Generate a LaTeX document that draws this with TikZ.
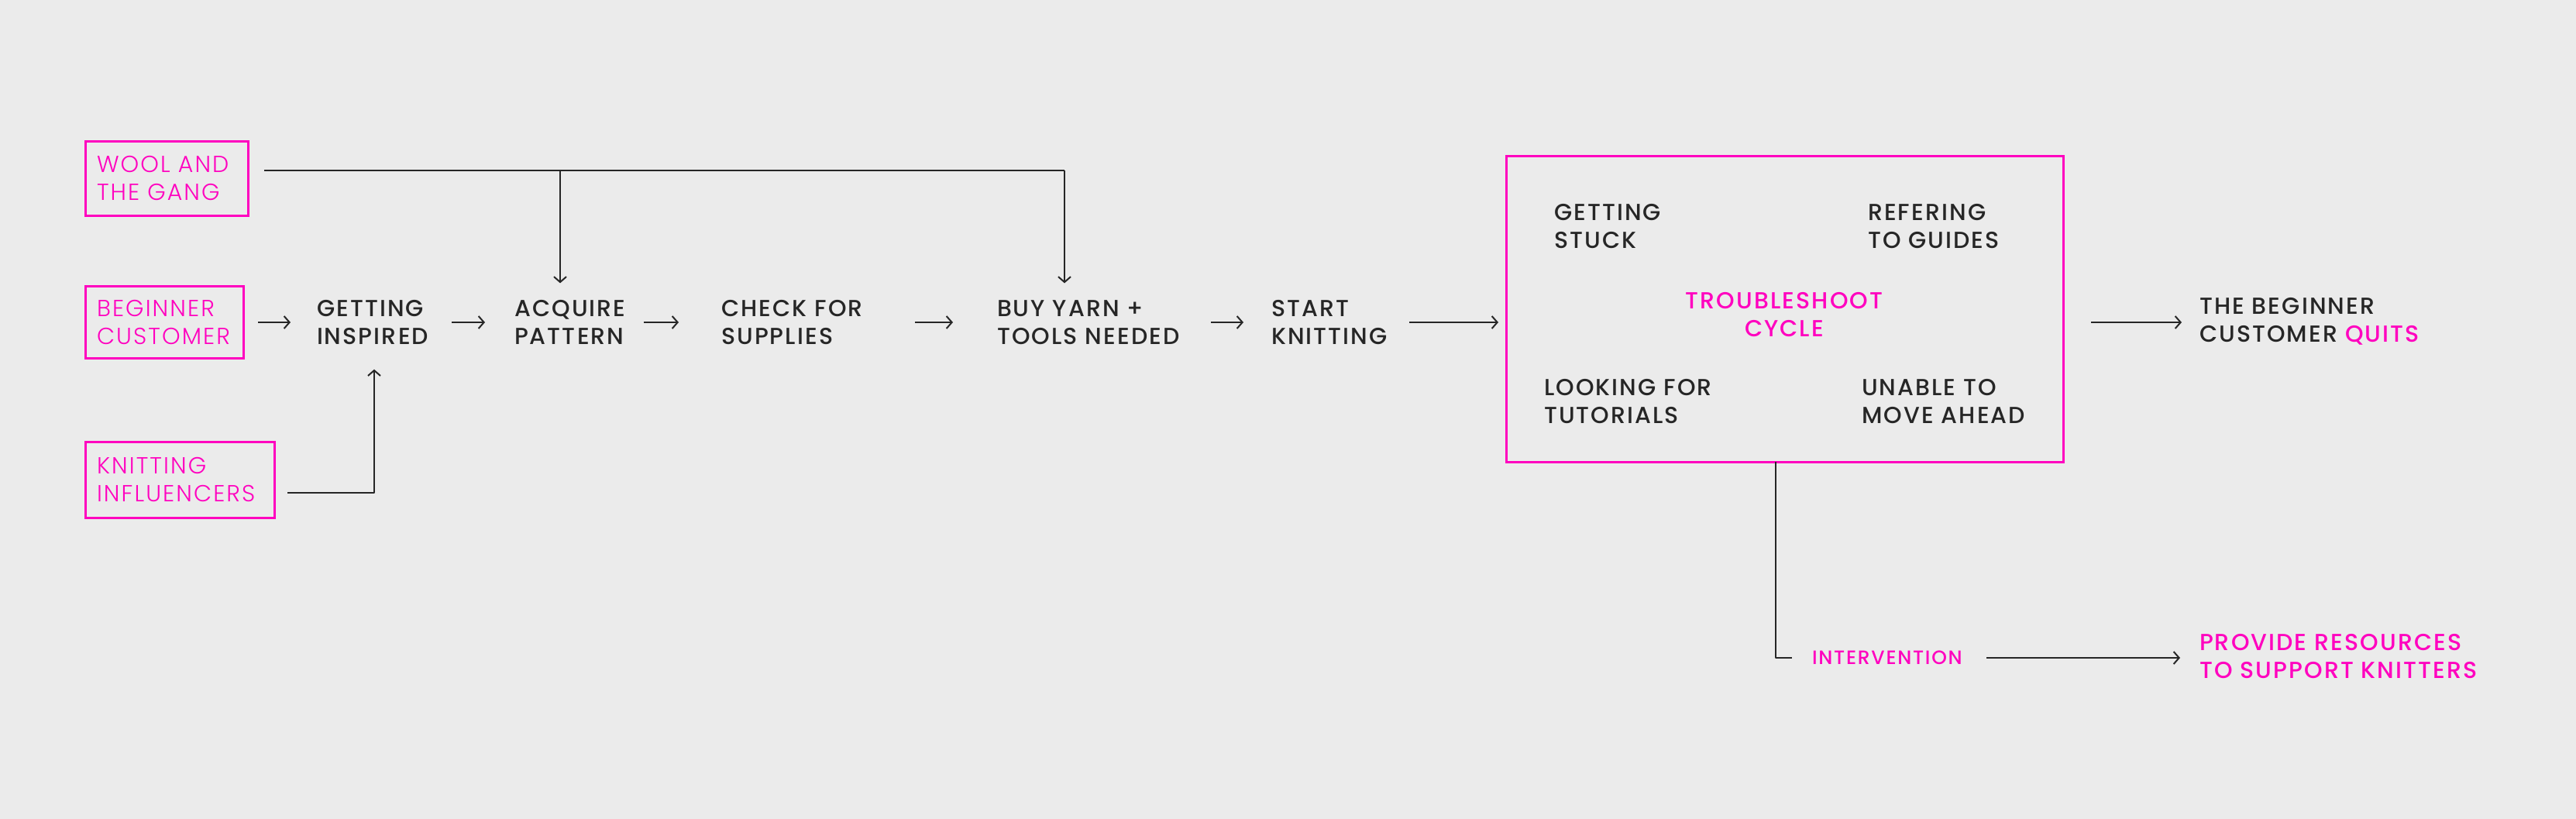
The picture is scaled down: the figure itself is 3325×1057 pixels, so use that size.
\documentclass[tikz,border=0pt]{standalone}
\usepackage{fontspec}
\setmainfont{Poppins}
\newfontfamily\pmed{Poppins Medium}[LetterSpace=7]
\newfontfamily\plight{Poppins Light}[LetterSpace=7]
\usetikzlibrary{arrows.meta}
\definecolor{mag}{HTML}{FF00BF}
\definecolor{ink}{HTML}{262626}
\definecolor{bg}{HTML}{EBEBEB}
\begin{document}
\begin{tikzpicture}[x=1pt,y=-1pt,
  every node/.style={inner sep=0pt, outer sep=0pt},
  src/.style={draw=mag, line width=3pt, text=mag, font={\plight\fontsize{30}{36}\selectfont},
    align=left, inner xsep=15pt, anchor=center},
  stage/.style={text=ink, font={\pmed\fontsize{30}{36}\selectfont}, align=left, anchor=west},
  hot/.style={text=mag, font={\pmed\fontsize{30}{36}\selectfont}, align=left, anchor=west},
  link/.style={draw=ink, line width=2pt, line join=round},
  arr/.style={link, -{Straight Barb[length=7pt,width=16pt,line width=2pt]}},
  cyclebox/.style={draw=mag, line width=3pt, minimum width=719pt, minimum height=395pt, anchor=center}
]
\fill[bg] (0,0) rectangle (3325,1057);
\useasboundingbox (0,0) rectangle (3325,1057);

% source boxes
\node[src, minimum width=210pt, minimum height=96pt, text width=180pt] (wool) at (215,230) {WOOL AND\\THE GANG};
\node[src, minimum width=204pt, minimum height=93pt, text width=174pt] (beg) at (212,416) {BEGINNER\\CUSTOMER};
\node[src, minimum width=244pt, minimum height=98pt, text width=214pt] (kn) at (232,619) {KNITTING\\INFLUENCERS};

% stages
\node[stage] (gi) at (409,416) {GETTING\\INSPIRED};
\node[stage] (aq) at (664,416) {ACQUIRE\\PATTERN};
\node[stage] (cs) at (931,416) {CHECK FOR\\SUPPLIES};
\node[stage] (by) at (1287,416) {BUY YARN +\\TOOLS NEEDED};
\node[stage] (sk) at (1641,416) {START\\KNITTING};

% troubleshoot box
\node[cyclebox] (tb) at (2303.5,398.5) {};
\node[stage] (stuck) at (2006,292) {GETTING\\STUCK};
\node[stage] (guides) at (2411,292) {REFERING\\TO GUIDES};
\node[stage] (tut) at (1993,518) {LOOKING FOR\\TUTORIALS};
\node[stage] (move) at (2403,518) {UNABLE TO\\MOVE AHEAD};
\node[hot, align=center, anchor=center] (cyc) at (2303,406) {TROUBLESHOOT\\CYCLE};

% outcomes
\node[stage] (qt) at (2839,415) {THE BEGINNER\\CUSTOMER {\color{mag}QUITS}};
\node[hot, font={\pmed\fontsize{25}{30}\selectfont}] (iv) at (2339,849) {INTERVENTION};
\node[hot] (pv) at (2839,847) {PROVIDE RESOURCES\\TO SUPPORT KNITTERS};

% wool connectors
\coordinate (wl) at (723,220);
\coordinate (wr) at (1374,220);
\draw[link] ([xshift=21pt,yshift=10pt]wool.east) -- (wr);
\draw[arr, shorten >=22pt] (wr) -- (wr |- by.north);
\draw[arr, shorten >=22pt] (wl) -- (wl |- aq.north);

% influencers connector
\draw[arr] ([xshift=17pt,yshift=-17pt]kn.east) -| ([xshift=74pt,yshift=-32pt]gi.south west);

% main flow
\draw[arr] ([xshift=19pt]beg.east) -- ([xshift=-34pt]gi.west);
\draw[arr] ([xshift=174pt]gi.west) -- ([xshift=-38pt]aq.west);
\draw[arr] ([xshift=167pt]aq.west) -- ([xshift=-55pt]cs.west);
\draw[arr] ([xshift=250pt]cs.west) -- ([xshift=-57pt]by.west);
\draw[arr] ([xshift=276pt]by.west) -- ([xshift=-36pt]sk.west);
\draw[arr] ([xshift=178pt]sk.west) -- ([xshift=-10pt]sk.west -| tb.west);
\draw[arr] ([xshift=36pt]tb.east |- sk.west) -- ([xshift=-23pt]tb.east |- sk.west -| qt.west);

% intervention
\draw[link] ([xshift=-11.5pt]tb.south) |- ([xshift=-26pt]iv.west);
\draw[arr] ([xshift=225pt]iv.west) -- ([xshift=-25pt]iv.west -| pv.west);
\end{tikzpicture}
\end{document}
